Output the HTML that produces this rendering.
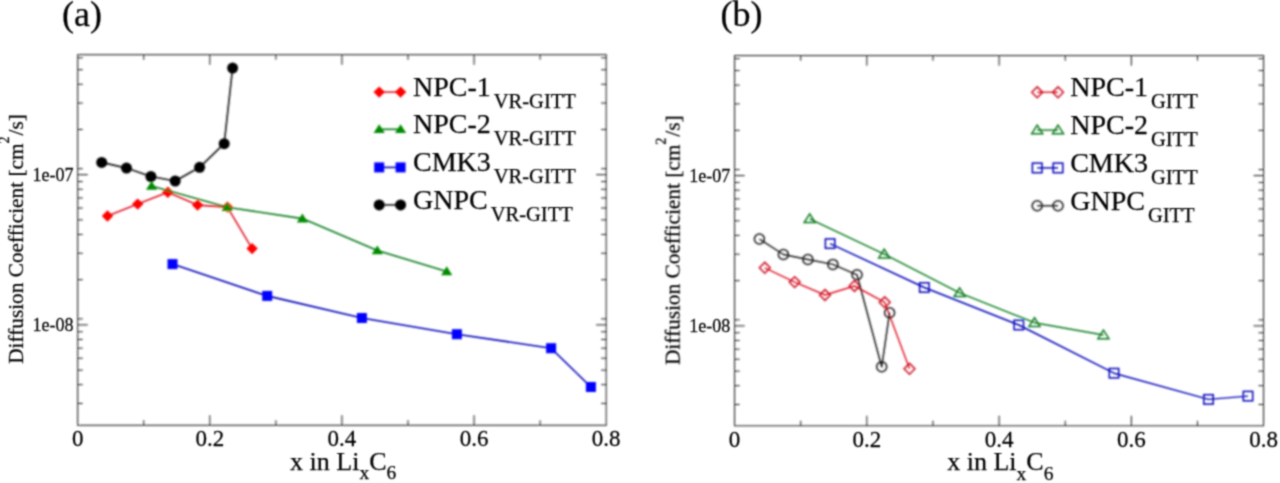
<!DOCTYPE html>
<html><head><meta charset="utf-8"><style>
html,body{margin:0;padding:0;background:#fff;}
svg{display:block;}
text{font-family:"Liberation Serif", serif;fill:#000;stroke:#000;stroke-width:0.25px;}
</style></head><body>
<svg width="1280" height="483" viewBox="0 0 1280 483">
<defs><filter id="b" x="0" y="0" width="1280" height="483" filterUnits="userSpaceOnUse"><feConvolveMatrix order="5" kernelMatrix="0.00297 0.01331 0.02194 0.01331 0.00297 0.01331 0.05963 0.09832 0.05963 0.01331 0.02194 0.09832 0.16210 0.09832 0.02194 0.01331 0.05963 0.09832 0.05963 0.01331 0.00297 0.01331 0.02194 0.01331 0.00297" edgeMode="duplicate"/></filter><filter id="t" x="0" y="0" width="1280" height="483" filterUnits="userSpaceOnUse"><feConvolveMatrix order="5" kernelMatrix="0.00023 0.00332 0.00809 0.00332 0.00023 0.00332 0.04785 0.11640 0.04785 0.00332 0.00809 0.11640 0.28313 0.11640 0.00809 0.00332 0.04785 0.11640 0.04785 0.00332 0.00023 0.00332 0.00809 0.00332 0.00023" edgeMode="duplicate"/></filter></defs>
<rect width="1280" height="483" fill="#fff"/>
<g filter="url(#b)">
<rect x="77.7" y="54.7" width="528.5" height="370.6" fill="none" stroke="#1a1a1a" stroke-width="1.0"/>
<line x1="143.76" y1="425.3" x2="143.76" y2="420.3" stroke="#1a1a1a" stroke-width="1.0"/>
<line x1="143.76" y1="54.7" x2="143.76" y2="59.7" stroke="#1a1a1a" stroke-width="1.0"/>
<line x1="209.82" y1="425.3" x2="209.82" y2="415.3" stroke="#1a1a1a" stroke-width="1.0"/>
<line x1="209.82" y1="54.7" x2="209.82" y2="64.7" stroke="#1a1a1a" stroke-width="1.0"/>
<line x1="275.89" y1="425.3" x2="275.89" y2="420.3" stroke="#1a1a1a" stroke-width="1.0"/>
<line x1="275.89" y1="54.7" x2="275.89" y2="59.7" stroke="#1a1a1a" stroke-width="1.0"/>
<line x1="341.95" y1="425.3" x2="341.95" y2="415.3" stroke="#1a1a1a" stroke-width="1.0"/>
<line x1="341.95" y1="54.7" x2="341.95" y2="64.7" stroke="#1a1a1a" stroke-width="1.0"/>
<line x1="408.01" y1="425.3" x2="408.01" y2="420.3" stroke="#1a1a1a" stroke-width="1.0"/>
<line x1="408.01" y1="54.7" x2="408.01" y2="59.7" stroke="#1a1a1a" stroke-width="1.0"/>
<line x1="474.07" y1="425.3" x2="474.07" y2="415.3" stroke="#1a1a1a" stroke-width="1.0"/>
<line x1="474.07" y1="54.7" x2="474.07" y2="64.7" stroke="#1a1a1a" stroke-width="1.0"/>
<line x1="540.14" y1="425.3" x2="540.14" y2="420.3" stroke="#1a1a1a" stroke-width="1.0"/>
<line x1="540.14" y1="54.7" x2="540.14" y2="59.7" stroke="#1a1a1a" stroke-width="1.0"/>
<line x1="77.7" y1="174.70" x2="87.7" y2="174.70" stroke="#1a1a1a" stroke-width="1.0"/>
<line x1="606.2" y1="174.70" x2="596.2" y2="174.70" stroke="#1a1a1a" stroke-width="1.0"/>
<line x1="77.7" y1="129.49" x2="82.7" y2="129.49" stroke="#1a1a1a" stroke-width="1.0"/>
<line x1="606.2" y1="129.49" x2="601.2" y2="129.49" stroke="#1a1a1a" stroke-width="1.0"/>
<line x1="77.7" y1="103.04" x2="82.7" y2="103.04" stroke="#1a1a1a" stroke-width="1.0"/>
<line x1="606.2" y1="103.04" x2="601.2" y2="103.04" stroke="#1a1a1a" stroke-width="1.0"/>
<line x1="77.7" y1="84.27" x2="82.7" y2="84.27" stroke="#1a1a1a" stroke-width="1.0"/>
<line x1="606.2" y1="84.27" x2="601.2" y2="84.27" stroke="#1a1a1a" stroke-width="1.0"/>
<line x1="77.7" y1="69.71" x2="82.7" y2="69.71" stroke="#1a1a1a" stroke-width="1.0"/>
<line x1="606.2" y1="69.71" x2="601.2" y2="69.71" stroke="#1a1a1a" stroke-width="1.0"/>
<line x1="77.7" y1="57.82" x2="82.7" y2="57.82" stroke="#1a1a1a" stroke-width="1.0"/>
<line x1="606.2" y1="57.82" x2="601.2" y2="57.82" stroke="#1a1a1a" stroke-width="1.0"/>
<line x1="77.7" y1="168.70" x2="82.7" y2="168.70" stroke="#1a1a1a" stroke-width="1.0"/>
<line x1="606.2" y1="168.70" x2="601.2" y2="168.70" stroke="#1a1a1a" stroke-width="1.0"/>
<line x1="77.7" y1="324.90" x2="87.7" y2="324.90" stroke="#1a1a1a" stroke-width="1.0"/>
<line x1="606.2" y1="324.90" x2="596.2" y2="324.90" stroke="#1a1a1a" stroke-width="1.0"/>
<line x1="77.7" y1="279.69" x2="82.7" y2="279.69" stroke="#1a1a1a" stroke-width="1.0"/>
<line x1="606.2" y1="279.69" x2="601.2" y2="279.69" stroke="#1a1a1a" stroke-width="1.0"/>
<line x1="77.7" y1="253.24" x2="82.7" y2="253.24" stroke="#1a1a1a" stroke-width="1.0"/>
<line x1="606.2" y1="253.24" x2="601.2" y2="253.24" stroke="#1a1a1a" stroke-width="1.0"/>
<line x1="77.7" y1="234.47" x2="82.7" y2="234.47" stroke="#1a1a1a" stroke-width="1.0"/>
<line x1="606.2" y1="234.47" x2="601.2" y2="234.47" stroke="#1a1a1a" stroke-width="1.0"/>
<line x1="77.7" y1="219.91" x2="82.7" y2="219.91" stroke="#1a1a1a" stroke-width="1.0"/>
<line x1="606.2" y1="219.91" x2="601.2" y2="219.91" stroke="#1a1a1a" stroke-width="1.0"/>
<line x1="77.7" y1="208.02" x2="82.7" y2="208.02" stroke="#1a1a1a" stroke-width="1.0"/>
<line x1="606.2" y1="208.02" x2="601.2" y2="208.02" stroke="#1a1a1a" stroke-width="1.0"/>
<line x1="77.7" y1="197.97" x2="82.7" y2="197.97" stroke="#1a1a1a" stroke-width="1.0"/>
<line x1="606.2" y1="197.97" x2="601.2" y2="197.97" stroke="#1a1a1a" stroke-width="1.0"/>
<line x1="77.7" y1="189.26" x2="82.7" y2="189.26" stroke="#1a1a1a" stroke-width="1.0"/>
<line x1="606.2" y1="189.26" x2="601.2" y2="189.26" stroke="#1a1a1a" stroke-width="1.0"/>
<line x1="77.7" y1="181.57" x2="82.7" y2="181.57" stroke="#1a1a1a" stroke-width="1.0"/>
<line x1="606.2" y1="181.57" x2="601.2" y2="181.57" stroke="#1a1a1a" stroke-width="1.0"/>
<line x1="77.7" y1="318.90" x2="82.7" y2="318.90" stroke="#1a1a1a" stroke-width="1.0"/>
<line x1="606.2" y1="318.90" x2="601.2" y2="318.90" stroke="#1a1a1a" stroke-width="1.0"/>
<line x1="77.7" y1="403.44" x2="82.7" y2="403.44" stroke="#1a1a1a" stroke-width="1.0"/>
<line x1="606.2" y1="403.44" x2="601.2" y2="403.44" stroke="#1a1a1a" stroke-width="1.0"/>
<line x1="77.7" y1="384.67" x2="82.7" y2="384.67" stroke="#1a1a1a" stroke-width="1.0"/>
<line x1="606.2" y1="384.67" x2="601.2" y2="384.67" stroke="#1a1a1a" stroke-width="1.0"/>
<line x1="77.7" y1="370.11" x2="82.7" y2="370.11" stroke="#1a1a1a" stroke-width="1.0"/>
<line x1="606.2" y1="370.11" x2="601.2" y2="370.11" stroke="#1a1a1a" stroke-width="1.0"/>
<line x1="77.7" y1="358.22" x2="82.7" y2="358.22" stroke="#1a1a1a" stroke-width="1.0"/>
<line x1="606.2" y1="358.22" x2="601.2" y2="358.22" stroke="#1a1a1a" stroke-width="1.0"/>
<line x1="77.7" y1="348.17" x2="82.7" y2="348.17" stroke="#1a1a1a" stroke-width="1.0"/>
<line x1="606.2" y1="348.17" x2="601.2" y2="348.17" stroke="#1a1a1a" stroke-width="1.0"/>
<line x1="77.7" y1="339.46" x2="82.7" y2="339.46" stroke="#1a1a1a" stroke-width="1.0"/>
<line x1="606.2" y1="339.46" x2="601.2" y2="339.46" stroke="#1a1a1a" stroke-width="1.0"/>
<line x1="77.7" y1="331.77" x2="82.7" y2="331.77" stroke="#1a1a1a" stroke-width="1.0"/>
<line x1="606.2" y1="331.77" x2="601.2" y2="331.77" stroke="#1a1a1a" stroke-width="1.0"/>
<rect x="734.6" y="55.6" width="528.9999999999999" height="370.2" fill="none" stroke="#1a1a1a" stroke-width="1.0"/>
<line x1="800.73" y1="425.8" x2="800.73" y2="420.8" stroke="#1a1a1a" stroke-width="1.0"/>
<line x1="800.73" y1="55.6" x2="800.73" y2="60.6" stroke="#1a1a1a" stroke-width="1.0"/>
<line x1="866.85" y1="425.8" x2="866.85" y2="415.8" stroke="#1a1a1a" stroke-width="1.0"/>
<line x1="866.85" y1="55.6" x2="866.85" y2="65.6" stroke="#1a1a1a" stroke-width="1.0"/>
<line x1="932.97" y1="425.8" x2="932.97" y2="420.8" stroke="#1a1a1a" stroke-width="1.0"/>
<line x1="932.97" y1="55.6" x2="932.97" y2="60.6" stroke="#1a1a1a" stroke-width="1.0"/>
<line x1="999.10" y1="425.8" x2="999.10" y2="415.8" stroke="#1a1a1a" stroke-width="1.0"/>
<line x1="999.10" y1="55.6" x2="999.10" y2="65.6" stroke="#1a1a1a" stroke-width="1.0"/>
<line x1="1065.22" y1="425.8" x2="1065.22" y2="420.8" stroke="#1a1a1a" stroke-width="1.0"/>
<line x1="1065.22" y1="55.6" x2="1065.22" y2="60.6" stroke="#1a1a1a" stroke-width="1.0"/>
<line x1="1131.35" y1="425.8" x2="1131.35" y2="415.8" stroke="#1a1a1a" stroke-width="1.0"/>
<line x1="1131.35" y1="55.6" x2="1131.35" y2="65.6" stroke="#1a1a1a" stroke-width="1.0"/>
<line x1="1197.47" y1="425.8" x2="1197.47" y2="420.8" stroke="#1a1a1a" stroke-width="1.0"/>
<line x1="1197.47" y1="55.6" x2="1197.47" y2="60.6" stroke="#1a1a1a" stroke-width="1.0"/>
<line x1="734.6" y1="175.60" x2="744.6" y2="175.60" stroke="#1a1a1a" stroke-width="1.0"/>
<line x1="1263.6" y1="175.60" x2="1253.6" y2="175.60" stroke="#1a1a1a" stroke-width="1.0"/>
<line x1="734.6" y1="130.36" x2="739.6" y2="130.36" stroke="#1a1a1a" stroke-width="1.0"/>
<line x1="1263.6" y1="130.36" x2="1258.6" y2="130.36" stroke="#1a1a1a" stroke-width="1.0"/>
<line x1="734.6" y1="103.89" x2="739.6" y2="103.89" stroke="#1a1a1a" stroke-width="1.0"/>
<line x1="1263.6" y1="103.89" x2="1258.6" y2="103.89" stroke="#1a1a1a" stroke-width="1.0"/>
<line x1="734.6" y1="85.11" x2="739.6" y2="85.11" stroke="#1a1a1a" stroke-width="1.0"/>
<line x1="1263.6" y1="85.11" x2="1258.6" y2="85.11" stroke="#1a1a1a" stroke-width="1.0"/>
<line x1="734.6" y1="70.54" x2="739.6" y2="70.54" stroke="#1a1a1a" stroke-width="1.0"/>
<line x1="1263.6" y1="70.54" x2="1258.6" y2="70.54" stroke="#1a1a1a" stroke-width="1.0"/>
<line x1="734.6" y1="58.64" x2="739.6" y2="58.64" stroke="#1a1a1a" stroke-width="1.0"/>
<line x1="1263.6" y1="58.64" x2="1258.6" y2="58.64" stroke="#1a1a1a" stroke-width="1.0"/>
<line x1="734.6" y1="169.60" x2="739.6" y2="169.60" stroke="#1a1a1a" stroke-width="1.0"/>
<line x1="1263.6" y1="169.60" x2="1258.6" y2="169.60" stroke="#1a1a1a" stroke-width="1.0"/>
<line x1="734.6" y1="325.90" x2="744.6" y2="325.90" stroke="#1a1a1a" stroke-width="1.0"/>
<line x1="1263.6" y1="325.90" x2="1253.6" y2="325.90" stroke="#1a1a1a" stroke-width="1.0"/>
<line x1="734.6" y1="280.66" x2="739.6" y2="280.66" stroke="#1a1a1a" stroke-width="1.0"/>
<line x1="1263.6" y1="280.66" x2="1258.6" y2="280.66" stroke="#1a1a1a" stroke-width="1.0"/>
<line x1="734.6" y1="254.19" x2="739.6" y2="254.19" stroke="#1a1a1a" stroke-width="1.0"/>
<line x1="1263.6" y1="254.19" x2="1258.6" y2="254.19" stroke="#1a1a1a" stroke-width="1.0"/>
<line x1="734.6" y1="235.41" x2="739.6" y2="235.41" stroke="#1a1a1a" stroke-width="1.0"/>
<line x1="1263.6" y1="235.41" x2="1258.6" y2="235.41" stroke="#1a1a1a" stroke-width="1.0"/>
<line x1="734.6" y1="220.84" x2="739.6" y2="220.84" stroke="#1a1a1a" stroke-width="1.0"/>
<line x1="1263.6" y1="220.84" x2="1258.6" y2="220.84" stroke="#1a1a1a" stroke-width="1.0"/>
<line x1="734.6" y1="208.94" x2="739.6" y2="208.94" stroke="#1a1a1a" stroke-width="1.0"/>
<line x1="1263.6" y1="208.94" x2="1258.6" y2="208.94" stroke="#1a1a1a" stroke-width="1.0"/>
<line x1="734.6" y1="198.88" x2="739.6" y2="198.88" stroke="#1a1a1a" stroke-width="1.0"/>
<line x1="1263.6" y1="198.88" x2="1258.6" y2="198.88" stroke="#1a1a1a" stroke-width="1.0"/>
<line x1="734.6" y1="190.17" x2="739.6" y2="190.17" stroke="#1a1a1a" stroke-width="1.0"/>
<line x1="1263.6" y1="190.17" x2="1258.6" y2="190.17" stroke="#1a1a1a" stroke-width="1.0"/>
<line x1="734.6" y1="182.48" x2="739.6" y2="182.48" stroke="#1a1a1a" stroke-width="1.0"/>
<line x1="1263.6" y1="182.48" x2="1258.6" y2="182.48" stroke="#1a1a1a" stroke-width="1.0"/>
<line x1="734.6" y1="319.90" x2="739.6" y2="319.90" stroke="#1a1a1a" stroke-width="1.0"/>
<line x1="1263.6" y1="319.90" x2="1258.6" y2="319.90" stroke="#1a1a1a" stroke-width="1.0"/>
<line x1="734.6" y1="404.49" x2="739.6" y2="404.49" stroke="#1a1a1a" stroke-width="1.0"/>
<line x1="1263.6" y1="404.49" x2="1258.6" y2="404.49" stroke="#1a1a1a" stroke-width="1.0"/>
<line x1="734.6" y1="385.71" x2="739.6" y2="385.71" stroke="#1a1a1a" stroke-width="1.0"/>
<line x1="1263.6" y1="385.71" x2="1258.6" y2="385.71" stroke="#1a1a1a" stroke-width="1.0"/>
<line x1="734.6" y1="371.14" x2="739.6" y2="371.14" stroke="#1a1a1a" stroke-width="1.0"/>
<line x1="1263.6" y1="371.14" x2="1258.6" y2="371.14" stroke="#1a1a1a" stroke-width="1.0"/>
<line x1="734.6" y1="359.24" x2="739.6" y2="359.24" stroke="#1a1a1a" stroke-width="1.0"/>
<line x1="1263.6" y1="359.24" x2="1258.6" y2="359.24" stroke="#1a1a1a" stroke-width="1.0"/>
<line x1="734.6" y1="349.18" x2="739.6" y2="349.18" stroke="#1a1a1a" stroke-width="1.0"/>
<line x1="1263.6" y1="349.18" x2="1258.6" y2="349.18" stroke="#1a1a1a" stroke-width="1.0"/>
<line x1="734.6" y1="340.47" x2="739.6" y2="340.47" stroke="#1a1a1a" stroke-width="1.0"/>
<line x1="1263.6" y1="340.47" x2="1258.6" y2="340.47" stroke="#1a1a1a" stroke-width="1.0"/>
<line x1="734.6" y1="332.78" x2="739.6" y2="332.78" stroke="#1a1a1a" stroke-width="1.0"/>
<line x1="1263.6" y1="332.78" x2="1258.6" y2="332.78" stroke="#1a1a1a" stroke-width="1.0"/>
<polyline points="107.5,216.0 137.7,204.1 167.8,192.2 197.6,205.1 227.4,207.1 252.1,248.6" fill="none" stroke="#e01828" stroke-width="1.6" stroke-linejoin="round"/>
<path d="M107.5,210.3L113.2,216.0L107.5,221.7L101.8,216.0Z" fill="#ff0000"/>
<path d="M137.7,198.4L143.39999999999998,204.1L137.7,209.79999999999998L132.0,204.1Z" fill="#ff0000"/>
<path d="M167.8,186.5L173.5,192.2L167.8,197.89999999999998L162.10000000000002,192.2Z" fill="#ff0000"/>
<path d="M197.6,199.4L203.29999999999998,205.1L197.6,210.79999999999998L191.9,205.1Z" fill="#ff0000"/>
<path d="M227.4,201.4L233.1,207.1L227.4,212.79999999999998L221.70000000000002,207.1Z" fill="#ff0000"/>
<path d="M252.1,242.9L257.8,248.6L252.1,254.29999999999998L246.4,248.6Z" fill="#ff0000"/>
<polyline points="151.6,186 227.2,207.2 302.4,218.6 377.3,250.5 446.7,271.4" fill="none" stroke="#0c7a1c" stroke-width="1.6" stroke-linejoin="round"/>
<path d="M151.6,180.96L157.2,189.78L146.0,189.78Z" fill="#008b00"/>
<path d="M227.2,202.16L232.79999999999998,210.98L221.6,210.98Z" fill="#008b00"/>
<path d="M302.4,213.56L308.0,222.38L296.79999999999995,222.38Z" fill="#008b00"/>
<path d="M377.3,245.46L382.90000000000003,254.28L371.7,254.28Z" fill="#008b00"/>
<path d="M446.7,266.35999999999996L452.3,275.17999999999995L441.09999999999997,275.17999999999995Z" fill="#008b00"/>
<polyline points="172.5,264.1 267.2,295.9 361.9,318 456.9,334.2 551.1,348.2 590.9,387" fill="none" stroke="#0808b8" stroke-width="1.6" stroke-linejoin="round"/>
<rect x="167.5" y="259.1" width="10" height="10" fill="#0000ff"/>
<rect x="262.2" y="290.9" width="10" height="10" fill="#0000ff"/>
<rect x="356.9" y="313" width="10" height="10" fill="#0000ff"/>
<rect x="451.9" y="329.2" width="10" height="10" fill="#0000ff"/>
<rect x="546.1" y="343.2" width="10" height="10" fill="#0000ff"/>
<rect x="585.9" y="382" width="10" height="10" fill="#0000ff"/>
<polyline points="101.7,162.4 126.5,168.1 150.9,176.5 175.2,181 199.6,167.3 224.2,143.7 232.6,68.1" fill="none" stroke="#1a1a1a" stroke-width="1.6" stroke-linejoin="round"/>
<circle cx="101.7" cy="162.4" r="5.5" fill="#000"/>
<circle cx="126.5" cy="168.1" r="5.5" fill="#000"/>
<circle cx="150.9" cy="176.5" r="5.5" fill="#000"/>
<circle cx="175.2" cy="181" r="5.5" fill="#000"/>
<circle cx="199.6" cy="167.3" r="5.5" fill="#000"/>
<circle cx="224.2" cy="143.7" r="5.5" fill="#000"/>
<circle cx="232.6" cy="68.1" r="5.5" fill="#000"/>
<polyline points="764.8,267.8 794.7,282.1 825.0,295.0 854.5,286 884.7,302.3 909.5,368.8" fill="none" stroke="#e01828" stroke-width="1.45" stroke-linejoin="round"/>
<path d="M764.8,262.40000000000003L770.1999999999999,267.8L764.8,273.2L759.4,267.8Z" fill="none" stroke="#cc1020" stroke-width="1.5"/>
<path d="M794.7,276.70000000000005L800.1,282.1L794.7,287.5L789.3000000000001,282.1Z" fill="none" stroke="#cc1020" stroke-width="1.5"/>
<path d="M825.0,289.6L830.4,295.0L825.0,300.4L819.6,295.0Z" fill="none" stroke="#cc1020" stroke-width="1.5"/>
<path d="M854.5,280.6L859.9,286L854.5,291.4L849.1,286Z" fill="none" stroke="#cc1020" stroke-width="1.5"/>
<path d="M884.7,296.90000000000003L890.1,302.3L884.7,307.7L879.3000000000001,302.3Z" fill="none" stroke="#cc1020" stroke-width="1.5"/>
<path d="M909.5,363.40000000000003L914.9,368.8L909.5,374.2L904.1,368.8Z" fill="none" stroke="#cc1020" stroke-width="1.5"/>
<polyline points="809.7,218.8 884.2,254.2 959.6,292.8 1034.5,322.7 1103.4,335" fill="none" stroke="#0c7a1c" stroke-width="1.45" stroke-linejoin="round"/>
<path d="M809.7,213.85000000000002L815.2,222.51250000000002L804.2,222.51250000000002Z" fill="none" stroke="#0c7a1c" stroke-width="1.5" stroke-linejoin="miter"/>
<path d="M884.2,249.25L889.7,257.91249999999997L878.7,257.91249999999997Z" fill="none" stroke="#0c7a1c" stroke-width="1.5" stroke-linejoin="miter"/>
<path d="M959.6,287.85L965.1,296.5125L954.1,296.5125Z" fill="none" stroke="#0c7a1c" stroke-width="1.5" stroke-linejoin="miter"/>
<path d="M1034.5,317.75L1040.0,326.41249999999997L1029.0,326.41249999999997Z" fill="none" stroke="#0c7a1c" stroke-width="1.5" stroke-linejoin="miter"/>
<path d="M1103.4,330.05L1108.9,338.7125L1097.9,338.7125Z" fill="none" stroke="#0c7a1c" stroke-width="1.5" stroke-linejoin="miter"/>
<polyline points="830.1,243.6 924.3,287.5 1018.8,325 1114,373.2 1208.5,399.4 1248,396.1" fill="none" stroke="#0808b8" stroke-width="1.45" stroke-linejoin="round"/>
<rect x="825.4" y="238.9" width="9.4" height="9.4" fill="none" stroke="#0808b8" stroke-width="1.5"/>
<rect x="919.5999999999999" y="282.8" width="9.4" height="9.4" fill="none" stroke="#0808b8" stroke-width="1.5"/>
<rect x="1014.0999999999999" y="320.3" width="9.4" height="9.4" fill="none" stroke="#0808b8" stroke-width="1.5"/>
<rect x="1109.3" y="368.5" width="9.4" height="9.4" fill="none" stroke="#0808b8" stroke-width="1.5"/>
<rect x="1203.8" y="394.7" width="9.4" height="9.4" fill="none" stroke="#0808b8" stroke-width="1.5"/>
<rect x="1243.3" y="391.40000000000003" width="9.4" height="9.4" fill="none" stroke="#0808b8" stroke-width="1.5"/>
<polyline points="759.4,239.0 783.4,254.5 807.9,259.5 832.9,264.4 857,274.8 881.7,366.8 889.6,312.7" fill="none" stroke="#1a1a1a" stroke-width="1.45" stroke-linejoin="round"/>
<circle cx="759.4" cy="239.0" r="5.0" fill="none" stroke="#1a1a1a" stroke-width="1.5"/>
<circle cx="783.4" cy="254.5" r="5.0" fill="none" stroke="#1a1a1a" stroke-width="1.5"/>
<circle cx="807.9" cy="259.5" r="5.0" fill="none" stroke="#1a1a1a" stroke-width="1.5"/>
<circle cx="832.9" cy="264.4" r="5.0" fill="none" stroke="#1a1a1a" stroke-width="1.5"/>
<circle cx="857" cy="274.8" r="5.0" fill="none" stroke="#1a1a1a" stroke-width="1.5"/>
<circle cx="881.7" cy="366.8" r="5.0" fill="none" stroke="#1a1a1a" stroke-width="1.5"/>
<circle cx="889.6" cy="312.7" r="5.0" fill="none" stroke="#1a1a1a" stroke-width="1.5"/>
<line x1="379.2" y1="92.1" x2="400.6" y2="92.1" stroke="#e01828" stroke-width="1.6"/>
<path d="M379.2,86.39999999999999L384.9,92.1L379.2,97.8L373.5,92.1Z" fill="#ff0000"/>
<path d="M400.6,86.39999999999999L406.3,92.1L400.6,97.8L394.90000000000003,92.1Z" fill="#ff0000"/>
<line x1="379.2" y1="129.3" x2="400.6" y2="129.3" stroke="#0c7a1c" stroke-width="1.6"/>
<path d="M379.2,124.26L384.8,133.08L373.59999999999997,133.08Z" fill="#008b00"/>
<path d="M400.6,124.26L406.20000000000005,133.08L395.0,133.08Z" fill="#008b00"/>
<line x1="379.2" y1="167.4" x2="400.6" y2="167.4" stroke="#0808b8" stroke-width="1.6"/>
<rect x="374.2" y="162.4" width="10" height="10" fill="#0000ff"/>
<rect x="395.6" y="162.4" width="10" height="10" fill="#0000ff"/>
<line x1="379.2" y1="204.9" x2="400.6" y2="204.9" stroke="#1a1a1a" stroke-width="1.6"/>
<circle cx="379.2" cy="204.9" r="5.5" fill="#000"/>
<circle cx="400.6" cy="204.9" r="5.5" fill="#000"/>
<line x1="1037.2" y1="92.3" x2="1058" y2="92.3" stroke="#e01828" stroke-width="1.45"/>
<path d="M1037.2,86.89999999999999L1042.6000000000001,92.3L1037.2,97.7L1031.8,92.3Z" fill="none" stroke="#cc1020" stroke-width="1.5"/>
<path d="M1058,86.89999999999999L1063.4,92.3L1058,97.7L1052.6,92.3Z" fill="none" stroke="#cc1020" stroke-width="1.5"/>
<line x1="1037.2" y1="130.1" x2="1058" y2="130.1" stroke="#0c7a1c" stroke-width="1.45"/>
<path d="M1037.2,125.14999999999999L1042.7,133.8125L1031.7,133.8125Z" fill="none" stroke="#0c7a1c" stroke-width="1.5" stroke-linejoin="miter"/>
<path d="M1058,125.14999999999999L1063.5,133.8125L1052.5,133.8125Z" fill="none" stroke="#0c7a1c" stroke-width="1.5" stroke-linejoin="miter"/>
<line x1="1037.2" y1="167.9" x2="1058" y2="167.9" stroke="#0808b8" stroke-width="1.45"/>
<rect x="1032.4" y="163.1" width="9.6" height="9.6" fill="none" stroke="#0808b8" stroke-width="1.5"/>
<rect x="1053.2" y="163.1" width="9.6" height="9.6" fill="none" stroke="#0808b8" stroke-width="1.5"/>
<line x1="1037.2" y1="205.7" x2="1058" y2="205.7" stroke="#1a1a1a" stroke-width="1.45"/>
<circle cx="1037.2" cy="205.7" r="5.0" fill="none" stroke="#1a1a1a" stroke-width="1.5"/>
<circle cx="1058" cy="205.7" r="5.0" fill="none" stroke="#1a1a1a" stroke-width="1.5"/>
</g>
<g filter="url(#t)">
<text x="413" y="95.89999999999999" font-size="28">NPC-1<tspan dx="3" dy="12.2" font-size="20.5">VR-GITT</tspan></text>
<text x="413" y="133.10000000000002" font-size="28">NPC-2<tspan dx="3" dy="12.2" font-size="20.5">VR-GITT</tspan></text>
<text x="413" y="171.20000000000002" font-size="28">CMK3<tspan dx="3" dy="12.2" font-size="20.5">VR-GITT</tspan></text>
<text x="413" y="208.70000000000002" font-size="28">GNPC<tspan dx="3" dy="12.2" font-size="20.5">VR-GITT</tspan></text>
<text x="1070.2" y="96.1" font-size="28">NPC-1<tspan dx="3" dy="12.2" font-size="20.5">GITT</tspan></text>
<text x="1070.2" y="133.9" font-size="28">NPC-2<tspan dx="3" dy="12.2" font-size="20.5">GITT</tspan></text>
<text x="1070.2" y="171.70000000000002" font-size="28">CMK3<tspan dx="3" dy="12.2" font-size="20.5">GITT</tspan></text>
<text x="1070.2" y="209.5" font-size="28">GNPC<tspan dx="3" dy="12.2" font-size="20.5">GITT</tspan></text>
<text transform="translate(77.70,446.3) scale(1,1.04)" font-size="23" text-anchor="middle">0</text>
<text transform="translate(209.82,446.3) scale(1,1.04)" font-size="23" text-anchor="middle">0.2</text>
<text transform="translate(341.95,446.3) scale(1,1.04)" font-size="23" text-anchor="middle">0.4</text>
<text transform="translate(474.07,446.3) scale(1,1.04)" font-size="23" text-anchor="middle">0.6</text>
<text transform="translate(606.20,446.3) scale(1,1.04)" font-size="23" text-anchor="middle">0.8</text>
<text transform="translate(73.5,181.10) scale(0.95,1)" font-size="19" text-anchor="end">1e-07</text>
<text transform="translate(73.5,331.30) scale(0.95,1)" font-size="19" text-anchor="end">1e-08</text>
<text transform="translate(734.60,447) scale(1,1.04)" font-size="23" text-anchor="middle">0</text>
<text transform="translate(866.85,447) scale(1,1.04)" font-size="23" text-anchor="middle">0.2</text>
<text transform="translate(999.10,447) scale(1,1.04)" font-size="23" text-anchor="middle">0.4</text>
<text transform="translate(1131.35,447) scale(1,1.04)" font-size="23" text-anchor="middle">0.6</text>
<text transform="translate(1263.60,447) scale(1,1.04)" font-size="23" text-anchor="middle">0.8</text>
<text transform="translate(730.4,182.00) scale(0.95,1)" font-size="19" text-anchor="end">1e-07</text>
<text transform="translate(730.4,332.30) scale(0.95,1)" font-size="19" text-anchor="end">1e-08</text>
<text x="343.2" y="469.5" font-size="26" text-anchor="middle">x in Li<tspan dy="9.5" font-size="19.5">x</tspan><tspan dy="-9.5">C</tspan><tspan dy="9.5" font-size="19.5">6</tspan></text>
<text transform="translate(22.6,239) rotate(-90)" font-size="21.3" text-anchor="middle">Diffusion Coefficient [cm<tspan dy="-14" font-size="14">2</tspan><tspan dy="14" dx="1">/s]</tspan></text>
<text x="1000.3" y="470.1" font-size="26" text-anchor="middle">x in Li<tspan dy="9.5" font-size="19.5">x</tspan><tspan dy="-9.5">C</tspan><tspan dy="9.5" font-size="19.5">6</tspan></text>
<text transform="translate(679.6,240.2) rotate(-90)" font-size="21.3" text-anchor="middle">Diffusion Coefficient [cm<tspan dy="-14" font-size="14">2</tspan><tspan dy="14" dx="1">/s]</tspan></text>
<text x="62" y="25.6" font-size="36">(a)</text>
<text x="720.5" y="25.6" font-size="36">(b)</text>
</g>
</svg>
</body></html>
